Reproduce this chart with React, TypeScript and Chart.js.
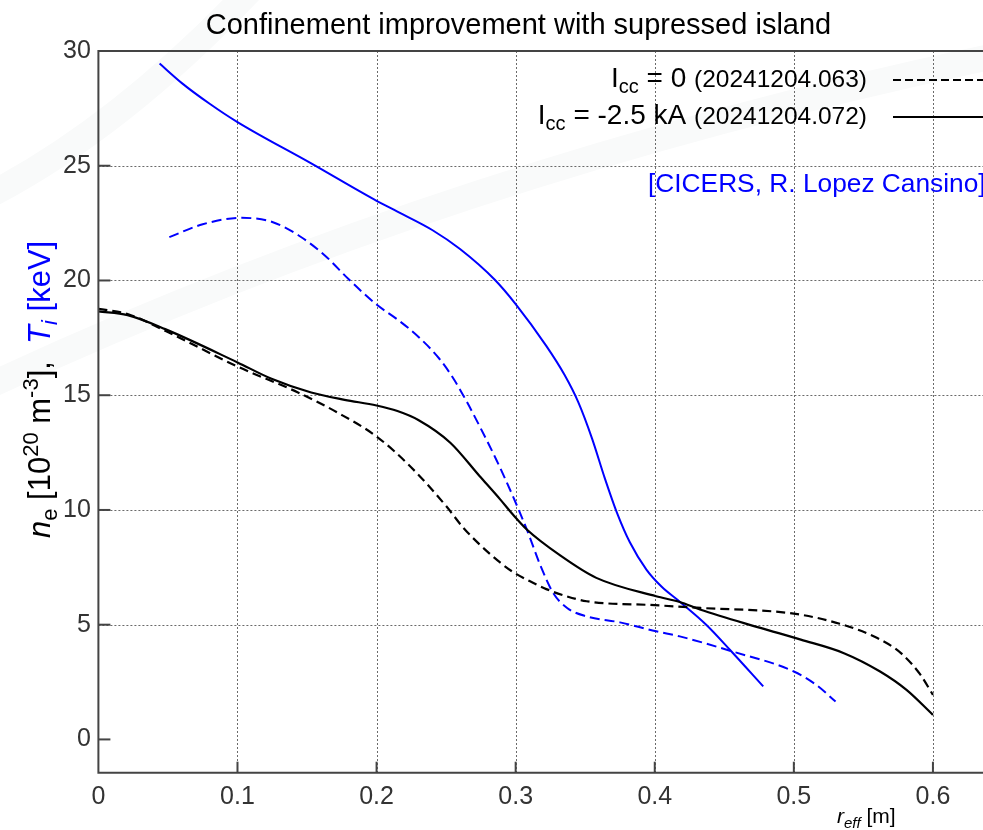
import { useEffect, useRef } from "react";
import { Chart, registerables } from "chart.js";

Chart.register(...registerables);

const FONT = '"Liberation Sans", Arial, Helvetica, sans-serif';

// Radial coordinate r_eff [m] and profiles for the two discharges
const tiR072 = [0.044, 0.06, 0.08, 0.1, 0.153, 0.2, 0.215, 0.24, 0.26, 0.285, 0.3, 0.322, 0.335, 0.345, 0.355, 0.364, 0.373, 0.382, 0.394, 0.405, 0.418, 0.437, 0.454, 0.478];
const tiVal072 = [29.45, 28.6, 27.7, 26.9, 25.1, 23.47, 23.0, 22.2, 21.37, 20.03, 18.97, 17.15, 15.9, 14.7, 13.1, 11.4, 9.85, 8.6, 7.4, 6.65, 6.0, 5.0, 3.91, 2.31];

const tiR063 = [0.051, 0.075, 0.103, 0.125, 0.144, 0.163, 0.18, 0.2, 0.215, 0.23, 0.245, 0.255, 0.265, 0.274, 0.286, 0.298, 0.308, 0.318, 0.327, 0.337, 0.351, 0.375, 0.401, 0.418, 0.456, 0.5, 0.516, 0.53];
const tiVal063 = [21.89, 22.45, 22.73, 22.55, 21.96, 21.08, 20.05, 18.95, 18.3, 17.55, 16.6, 15.75, 14.7, 13.66, 12.2, 10.6, 9.15, 7.55, 6.38, 5.73, 5.36, 5.1, 4.71, 4.49, 3.83, 2.96, 2.38, 1.65];

const neR063 = [0, 0.021, 0.048, 0.1, 0.1435, 0.172, 0.2, 0.225, 0.25, 0.262, 0.274, 0.289, 0.298, 0.31, 0.322, 0.336, 0.351, 0.4, 0.433, 0.5, 0.533, 0.56, 0.577, 0.591, 0.6];
const neVal063 = [18.76, 18.54, 17.81, 16.25, 15.12, 14.24, 13.2, 11.85, 10.17, 9.25, 8.5, 7.7, 7.3, 6.9, 6.55, 6.25, 6.02, 5.85, 5.73, 5.48, 5.04, 4.42, 3.76, 2.82, 1.94];

const neR072 = [0, 0.021, 0.048, 0.1, 0.124, 0.153, 0.177, 0.2, 0.215, 0.23, 0.253, 0.274, 0.289, 0.298, 0.308, 0.332, 0.358, 0.401, 0.418, 0.4325, 0.476, 0.505, 0.536, 0.562, 0.581, 0.6];
const neVal072 = [18.65, 18.49, 17.88, 16.43, 15.73, 15.12, 14.8, 14.55, 14.31, 13.92, 12.93, 11.48, 10.45, 9.8, 9.15, 8.02, 7.04, 6.24, 5.99, 5.66, 4.86, 4.35, 3.76, 2.96, 2.16, 1.07];

const xTicks = [0, 0.1, 0.2, 0.3, 0.4, 0.5, 0.6];
const yTicks = [0, 5, 10, 15, 20, 25, 30];

const titleText = "Confinement improvement with supressed island";
const sourceText = "[CICERS, R. Lopez Cansino]";
const shot063 = "(20241204.063)";
const shot072 = "(20241204.072)";

type Run = { t: string; size: number; dy?: number; italic?: boolean; color?: string };

function runFont(r: Run) {
  return `${r.italic ? "italic " : ""}${r.size}px ${FONT}`;
}

function drawRuns(ctx: CanvasRenderingContext2D, runs: Run[], x: number, y: number, align: "left" | "right") {
  const widths = runs.map((r) => {
    ctx.font = runFont(r);
    return ctx.measureText(r.t).width;
  });
  const total = widths.reduce((a, b) => a + b, 0);
  let cx = align === "right" ? x - total : x;
  ctx.textAlign = "left";
  ctx.textBaseline = "alphabetic";
  runs.forEach((r, i) => {
    ctx.font = runFont(r);
    ctx.fillStyle = r.color || "#000";
    ctx.fillText(r.t, cx, y + (r.dy || 0));
    cx += widths[i];
  });
}

const pts = (xs: number[], ys: number[]) => xs.map((x, i) => ({ x, y: ys[i] }));

const framePlugin = {
  id: "frame",
  beforeDraw(chart: any) {
    const { ctx, width, height } = chart;
    ctx.save();
    ctx.fillStyle = "#fff";
    ctx.fillRect(0, 0, width, height);
    // faint background arcs
    ctx.strokeStyle = "#f9fafa";
    ctx.lineWidth = 26;
    ctx.beginPath();
    ctx.moveTo(-20, 390);
    ctx.quadraticCurveTo(450, 170, 1000, 55);
    ctx.stroke();
    ctx.beginPath();
    ctx.moveTo(-20, 200);
    ctx.quadraticCurveTo(120, 130, 260, -20);
    ctx.stroke();
    ctx.restore();
  },
  beforeDatasetsDraw(chart: any) {
    const { ctx, chartArea, scales } = chart;
    const { left, right, top, bottom } = chartArea;
    ctx.save();
    ctx.strokeStyle = "#6a6a6a";
    ctx.lineWidth = 1;
    ctx.setLineDash([2, 2]);
    xTicks.forEach((v) => {
      if (v === 0) return;
      const px = Math.round(scales.x.getPixelForValue(v)) + 0.5;
      ctx.beginPath();
      ctx.moveTo(px, top);
      ctx.lineTo(px, bottom);
      ctx.stroke();
    });
    yTicks.forEach((v) => {
      if (v === 0 || v === 30) return;
      const py = Math.round(scales.y.getPixelForValue(v)) + 0.5;
      ctx.beginPath();
      ctx.moveTo(left, py);
      ctx.lineTo(right, py);
      ctx.stroke();
    });
    ctx.restore();
  },
  afterDatasetsDraw(chart: any) {
    const { ctx, chartArea, scales } = chart;
    const { left, right, top, bottom } = chartArea;
    ctx.save();
    ctx.setLineDash([]);
    ctx.strokeStyle = "#444";
    ctx.lineWidth = 2;
    // axis frame
    ctx.beginPath();
    ctx.moveTo(right, top);
    ctx.lineTo(left, top);
    ctx.lineTo(left, bottom);
    ctx.lineTo(right, bottom);
    ctx.stroke();
    // inward tick marks
    xTicks.forEach((v) => {
      if (v === 0) return;
      const px = scales.x.getPixelForValue(v);
      ctx.beginPath();
      ctx.moveTo(px, bottom);
      ctx.lineTo(px, bottom - 11);
      ctx.stroke();
    });
    yTicks.forEach((v) => {
      if (v === 30) return;
      const py = scales.y.getPixelForValue(v);
      ctx.beginPath();
      ctx.moveTo(left, py);
      ctx.lineTo(left + 12, py);
      ctx.stroke();
    });

    // title
    ctx.fillStyle = "#000";
    ctx.font = `29px ${FONT}`;
    ctx.textAlign = "center";
    ctx.textBaseline = "alphabetic";
    ctx.fillText(titleText, 518.5, 34);

    // y-axis title
    ctx.save();
    ctx.translate(50, 538);
    ctx.rotate(-Math.PI / 2);
    drawRuns(
      ctx,
      [
        { t: "n", size: 31, italic: true },
        { t: "e", size: 22, dy: 7 },
        { t: " [10", size: 31 },
        { t: "20", size: 22, dy: -12 },
        { t: " m", size: 31 },
        { t: "-3", size: 22, dy: -12 },
        { t: "],  ", size: 31 },
        { t: "T", size: 31, italic: true, color: "#0000ff" },
        { t: "i", size: 22, italic: true, dy: 7, color: "#0000ff" },
        { t: " [keV]", size: 31, color: "#0000ff" },
      ],
      0,
      0,
      "left"
    );
    ctx.restore();

    // x-axis title
    drawRuns(
      ctx,
      [
        { t: "r", size: 21, italic: true },
        { t: "eff", size: 15, italic: true, dy: 5 },
        { t: " [m]", size: 21 },
      ],
      837,
      823,
      "left"
    );

    // legend
    drawRuns(
      ctx,
      [
        { t: "I", size: 28 },
        { t: "cc", size: 20, dy: 6 },
        { t: " = 0 ", size: 28 },
        { t: shot063, size: 24.5 },
      ],
      867,
      87,
      "right"
    );
    drawRuns(
      ctx,
      [
        { t: "I", size: 28 },
        { t: "cc", size: 20, dy: 6 },
        { t: " = -2.5 kA ", size: 28 },
        { t: shot072, size: 24.5 },
      ],
      867,
      124,
      "right"
    );
    ctx.strokeStyle = "#000";
    ctx.lineWidth = 2;
    ctx.setLineDash([8, 4]);
    ctx.beginPath();
    ctx.moveTo(893, 80);
    ctx.lineTo(990, 80);
    ctx.stroke();
    ctx.setLineDash([]);
    ctx.beginPath();
    ctx.moveTo(893, 117);
    ctx.lineTo(990, 117);
    ctx.stroke();

    // source note
    ctx.fillStyle = "#0000ff";
    ctx.font = `26.3px ${FONT}`;
    ctx.textAlign = "left";
    ctx.fillText(sourceText, 648, 192);
    ctx.restore();
  },
};

export default function App() {
  const ref = useRef<HTMLCanvasElement | null>(null);

  useEffect(() => {
    document.body.style.margin = "0";
    const canvas = ref.current;
    if (!canvas) return;
    const line = (data: any, color: string, dash: number[], width: number) => ({
      data,
      borderColor: color,
      borderWidth: width,
      borderDash: dash,
      pointRadius: 0,
      fill: false,
      cubicInterpolationMode: "monotone" as const,
    });
    const chart = new Chart(canvas, {
      type: "line",
      data: {
        datasets: [
          line(pts(neR063, neVal063), "#000", [9, 5], 2.2),
          line(pts(neR072, neVal072), "#000", [], 2.2),
          line(pts(tiR063, tiVal063), "#0000ff", [10, 5], 2),
          line(pts(tiR072, tiVal072), "#0000ff", [], 2),
        ],
      },
      options: {
        responsive: false,
        animation: false,
        events: [],
        layout: { padding: { top: 51, left: 0, right: 0, bottom: 0 } },
        plugins: { legend: { display: false }, title: { display: false }, tooltip: { enabled: false } },
        scales: {
          x: {
            type: "linear",
            min: 0,
            max: 0.636,
            grid: { display: false, drawTicks: false },
            border: { display: false },
            afterBuildTicks: (s: any) => {
              s.ticks = xTicks.map((value) => ({ value }));
            },
            afterFit: (s: any) => {
              s.height = 57.3;
            },
            ticks: {
              color: "#333",
              font: { family: FONT, size: 25 },
              padding: 9,
              maxRotation: 0,
              autoSkip: false,
              callback: (v: any) => (v === 0 ? "0" : Number(v).toFixed(1)),
            },
          },
          y: {
            type: "linear",
            min: -1.45,
            max: 30,
            grid: { display: false, drawTicks: false },
            border: { display: false },
            afterBuildTicks: (s: any) => {
              s.ticks = yTicks.map((value) => ({ value }));
            },
            afterFit: (s: any) => {
              s.width = 98.4;
            },
            ticks: {
              color: "#333",
              font: { family: FONT, size: 25 },
              padding: 7.5,
              autoSkip: false,
              callback: (v: any) => String(v),
            },
          },
        },
      },
      plugins: [framePlugin],
    });
    return () => chart.destroy();
  }, []);

  return (
    <div style={{ width: 983, height: 830 }}>
      <canvas ref={ref} width={983} height={830} style={{ display: "block" }} />
    </div>
  );
}
